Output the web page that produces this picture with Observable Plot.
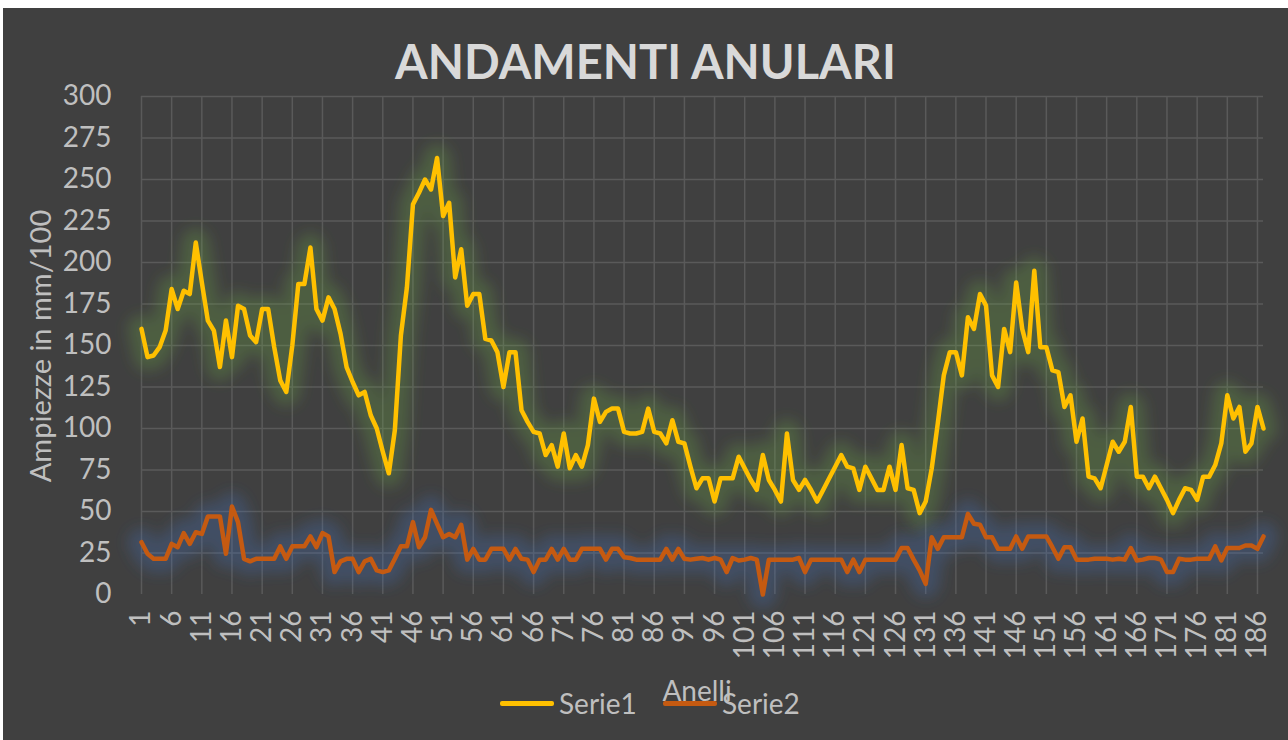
<!DOCTYPE html>
<html>
<head>
<meta charset="utf-8">
<script src="https://cdn.jsdelivr.net/npm/d3@7"></script>
<script src="https://cdn.jsdelivr.net/npm/@observablehq/plot@0.6"></script>
<style>
  body { margin: 0; background: #ffffff; }
  #chart { position: absolute; left: 3px; top: 8px; width: 1285px; height: 732px; background: #404040; overflow: hidden; font-family: Lato, "Open Sans", sans-serif; }
  #title { position: absolute; left: 0; top: 30px; width: 100%; text-align: center; font-family: Lato, sans-serif; font-weight: bold; font-size: 47px; line-height: 1; color: #d9d9d9; }
  #plot { position: absolute; left: 0; top: 76px; }
  #ytitle { position: absolute; left: 36px; top: 338px; transform: translate(-50%, -50%) rotate(-90deg); white-space: nowrap; font-size: 29px; color: #bfbfbf; }
  #xtitle { position: absolute; left: 694px; top: 682px; transform: translate(-50%, -50%); font-size: 28px; color: #bfbfbf; line-height: 1; }
  .leg { position: absolute; top: 695px; transform: translateY(-50%); display: flex; align-items: center; font-size: 28px; color: #bfbfbf; line-height: 1; }
  .leg .sw { width: 54px; height: 5px; margin-right: 5px; border-radius: 2px; }
</style>
</head>
<body>
<div id="chart">
  <div id="title">ANDAMENTI ANULARI</div>
  <div id="plot"></div>
  <div id="ytitle">Ampiezze in mm/100</div>
  <div id="xtitle">Anelli</div>
  <div class="leg" style="left:497px"><div class="sw" style="background:#FFC000"></div><span>Serie1</span></div>
  <div class="leg" style="left:660px"><div class="sw" style="background:#C55A11"></div><span>Serie2</span></div>
</div>
<script>
// Ring index (Anelli) 1..187
const anelli = d3.range(1, 188);

const serie1 = [
  160, 143, 144, 149, 159, 184, 172, 183, 181, 212,
  188, 165, 159, 137, 165, 143, 174, 172, 156, 152,
  172, 172, 149, 129, 122, 150, 187, 187, 209, 172,
  165, 179, 172, 157, 137, 128, 120, 122, 108, 100,
  86, 73, 99, 156, 185, 235, 242, 250, 244, 263,
  228, 236, 191, 208, 174, 181, 181, 154, 153, 146,
  125, 146, 146, 111, 104, 98, 97, 84, 90, 77,
  97, 76, 84, 77, 90, 118, 104, 110, 112, 112,
  98, 97, 97, 98, 112, 98, 97, 91, 105, 92,
  91, 77, 64, 70, 70, 56, 70, 70, 70, 83,
  76, 69, 63, 84, 69, 63, 56, 97, 69, 63,
  69, 63, 56, 63, 70, 77, 84, 77, 76, 63,
  77, 70, 63, 63, 77, 63, 90, 64, 63, 49,
  56, 76, 103, 132, 146, 146, 132, 167, 160, 181,
  174, 132, 125, 160, 146, 188, 160, 146, 195, 149,
  149, 135, 134, 113, 120, 92, 106, 71, 70, 64,
  78, 92, 86, 92, 113, 71, 71, 64, 71, 64,
  57, 49, 57, 64, 63, 57, 71, 71, 78, 91,
  120, 106, 113, 86, 91, 113, 100
];

const serie2 = [
  31.5, 24.5, 21.5, 21.5, 21.5, 30.5, 28.5, 37, 30.5, 37.5,
  36.5, 47, 47, 47, 24.5, 53, 43.6, 21.5, 20, 21.5,
  21.5, 21.5, 21.5, 29, 21.5, 29, 29, 29, 35, 28.5,
  37, 35, 13.5, 20, 21.5, 21.5, 13.5, 20, 21.5, 14.5,
  13.5, 14.5, 21.5, 29, 29, 43.6, 28.5, 34.5, 51, 42.6,
  34.5, 36.5, 34.5, 42, 21, 27.5, 21, 21, 27.5, 27.5,
  27.5, 21, 27.5, 21.5, 21, 13.5, 21, 21, 27.5, 21,
  27.5, 21, 21, 27.5, 27.5, 27.5, 27.5, 21, 27.5, 27.5,
  22.5, 22, 21, 21, 21, 21, 21, 27.5, 21, 27.5,
  21.5, 21, 21.5, 22, 21, 22, 21, 13.5, 22, 20.5,
  21, 22, 21, 0, 21, 21, 21, 21, 21, 22,
  13.5, 21, 21, 21, 21, 21, 21, 13.5, 21, 13.5,
  21, 21, 21, 21, 21, 21, 28, 28, 21, 14.5,
  6.4, 34.5, 27.5, 34.5, 34.5, 34.5, 34.5, 48.6, 42.6, 42,
  34.5, 34.5, 27.5, 27.5, 27.5, 35, 27.5, 35, 35, 35,
  35, 28.5, 21.5, 28.5, 28.5, 21, 21, 21, 21.5, 21.5,
  21.5, 21, 21.5, 21, 28, 20.5, 21, 22, 22, 21,
  13.5, 13.5, 21.5, 21, 21, 21.5, 21.5, 21.5, 29, 20.5,
  28, 28, 28, 29.5, 29.5, 27.5, 35
];

const xTicks = d3.range(1, 187, 5);      // 1, 6, 11, ... 186
const yTicks = d3.range(0, 301, 25);     // 0 .. 300

if (serie1.length !== anelli.length || serie2.length !== anelli.length) {
  throw new Error("length mismatch " + serie1.length + " " + serie2.length);
}

const d1 = anelli.map((a, i) => ({a, v: serie1[i]}));
const d2 = anelli.map((a, i) => ({a, v: serie2[i]}));

const chart = Plot.plot({
  width: 1285,
  height: 590,
  marginLeft: 138,
  marginRight: 25,
  marginTop: 12,
  marginBottom: 80,
  style: { background: "transparent", color: "#bfbfbf", fontFamily: "Lato, 'Open Sans', sans-serif", fontSize: "28px", overflow: "visible" },
  x: { type: "linear", domain: [1, 187] },
  y: { type: "linear", domain: [0, 300] },
  marks: [
    Plot.ruleX(xTicks, { stroke: "#5a5a5a", strokeWidth: 1.5 }),
    Plot.ruleY(yTicks.filter(d => d > 0), { stroke: "#5a5a5a", strokeWidth: 1.5 }),
    // glow layers (blurred after rendering)
    Plot.line(d2, { x: "a", y: "v", stroke: "#4472C4", strokeWidth: 28, strokeOpacity: 0.27, strokeLinejoin: "round" }),
    Plot.line(d1, { x: "a", y: "v", stroke: "#70AD47", strokeWidth: 28, strokeOpacity: 0.27, strokeLinejoin: "round" }),
    // main series
    Plot.line(d2, { x: "a", y: "v", stroke: "#C55A11", strokeWidth: 4.5, strokeLinejoin: "round" }),
    Plot.line(d1, { x: "a", y: "v", stroke: "#FFC000", strokeWidth: 4.5, strokeLinejoin: "round" }),
    Plot.axisX({ ticks: xTicks, tickFormat: d => String(d), tickRotate: -90, tickSize: 0, tickPadding: 16, label: null, fill: "#bfbfbf", fontSize: 28 }),
    Plot.axisY({ ticks: yTicks, tickSize: 0, tickPadding: 30, label: null, fill: "#bfbfbf", fontSize: 28 })
  ]
});

// Soft glow behind the lines (Excel glow effect)
const ns = "http://www.w3.org/2000/svg";
const defs = document.createElementNS(ns, "defs");
const filt = document.createElementNS(ns, "filter");
filt.setAttribute("id", "glowblur");
filt.setAttribute("filterUnits", "userSpaceOnUse");
filt.setAttribute("x", "0"); filt.setAttribute("y", "0");
filt.setAttribute("width", "1285"); filt.setAttribute("height", "590");
const blur = document.createElementNS(ns, "feGaussianBlur");
blur.setAttribute("stdDeviation", "7");
filt.appendChild(blur);
defs.appendChild(filt);
chart.appendChild(defs);
const lineGroups = chart.querySelectorAll('g[aria-label="line"]');
if (lineGroups.length >= 4) {
  lineGroups[0].setAttribute("filter", "url(#glowblur)");
  lineGroups[1].setAttribute("filter", "url(#glowblur)");
}

document.getElementById("plot").appendChild(chart);
</script>
</body>
</html>
